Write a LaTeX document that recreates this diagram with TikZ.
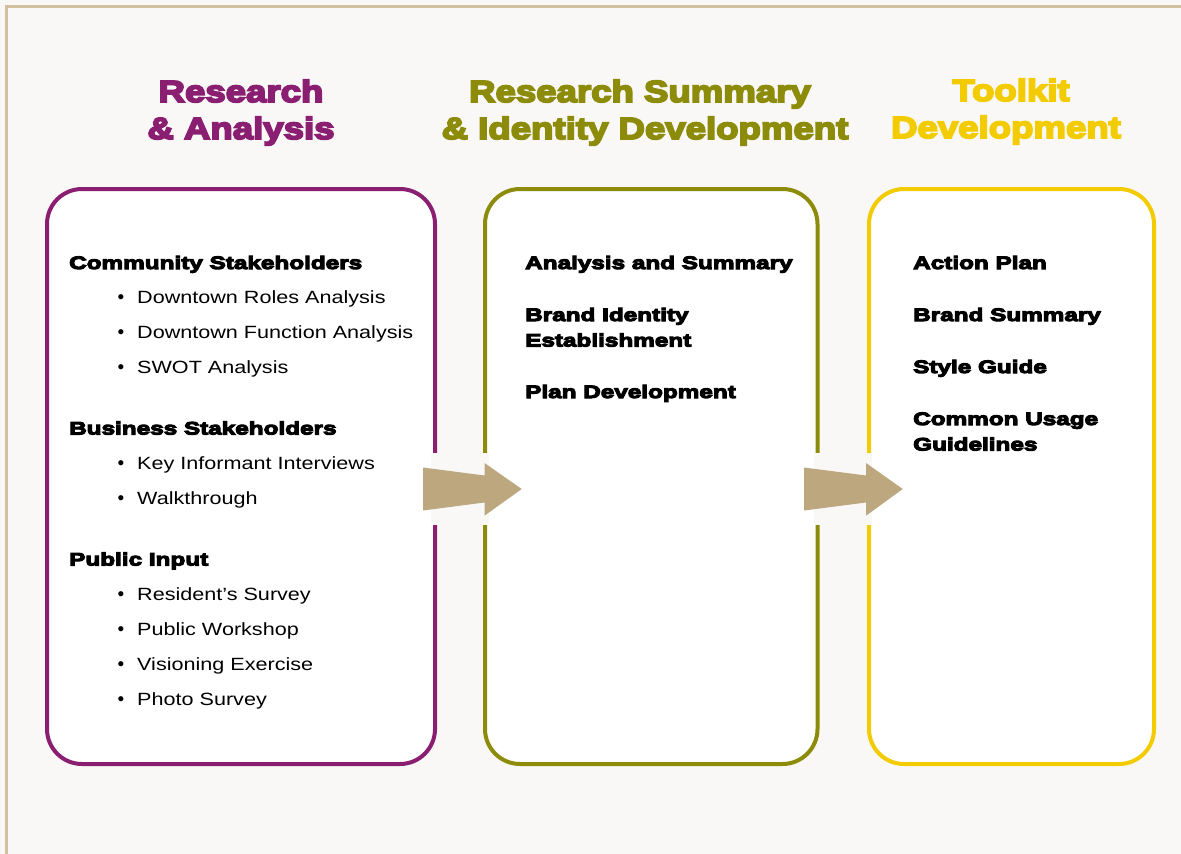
\documentclass[tikz,border=0pt]{standalone}
\usepackage{fontspec}
\newfontface\hdfont{Liberation Sans Bold}[FakeBold=6,FakeStretch=1.2]
\newfontface\sbfont{Liberation Sans Bold}[FakeBold=6,FakeStretch=1.35]
\newfontface\rgfont{Liberation Sans}[FakeStretch=1.22]
\newfontface\bulfont{Liberation Sans}
\definecolor{bgc}{HTML}{F9F8F6}
\definecolor{framec}{HTML}{D2C19E}
\definecolor{purp}{HTML}{8A1F72}
\definecolor{oliv}{HTML}{8C8C0A}
\definecolor{yelw}{HTML}{F2CB00}
\definecolor{arrc}{HTML}{BDA77F}
\tikzset{
  box/.style={draw, line width=4pt, fill=white, rounded corners=35pt, inner sep=0pt},
  head/.style={anchor=base, inner sep=0pt, font={\hdfont\fontsize{30.5}{37}\selectfont}},
  sub/.style={anchor=base west, inner sep=0pt, font={\sbfont\fontsize{18}{22}\selectfont}},
  itm/.style={anchor=base west, inner sep=0pt, font={\rgfont\fontsize{17.7}{22}\selectfont}},
  bul/.style={anchor=base, inner sep=0pt, font={\bulfont\fontsize{19}{22}\selectfont}},
  blockarrow/.style={fill=arrc, draw=none},
  halo/.style={fill=bgc, draw=none}
}
\begin{document}
\begin{tikzpicture}[x=1pt,y=-1pt]
\useasboundingbox (0,0) rectangle (1181,854);
\fill[bgc] (0,0) rectangle (1181,854);
\draw[framec, line width=3pt] (6.5,854) -- (6.5,6.5) -- (1181,6.5);

% headers
\node[head, text=purp] (h1a) at (241,102) {Research};
\node[head, text=purp] (h1b) at (241,139) {\& Analysis};
\node[head, text=oliv] (h2a) at (640,102) {Research Summary};
\node[head, text=oliv] (h2b) at (645,139) {\& Identity Development};
\node[head, text=yelw] (h3a) at (1011,101) {Toolkit};
\node[head, text=yelw] (h3b) at (1006,138) {Development};

% boxes
\node[box, draw=purp, minimum width=388pt, minimum height=575pt] (b1) at (241,476.5) {};
\node[box, draw=oliv, minimum width=332.5pt, minimum height=575pt] (b2) at (651.25,476.5) {};
\node[box, draw=yelw, minimum width=285pt, minimum height=575pt] (b3) at (1011.5,476.5) {};

% arrows with halos
\fill[halo] (431,453) rectangle (489,525);
\fill[halo] (814,453) rectangle (872,525);
\coordinate (a1) at (423,489);
\coordinate (a2) at (804,489);
\fill[blockarrow] (a1) ++(0,-21.5) -- ++(61.5,8) -- ++(0,-12.5) -- ++(37.2,26) -- ++(-37.2,26.7) -- ++(0,-13.2) -- ++(-61.5,8) -- cycle;
\fill[blockarrow] (a2) ++(0,-21.5) -- ++(62,8) -- ++(0,-12.5) -- ++(36.7,26) -- ++(-36.7,26.7) -- ++(0,-13.2) -- ++(-62,8) -- cycle;

% box 1
\node[sub] (s1) at (69,269) {Community Stakeholders};
\node[bul] (p1) at (121,303.5) {•}; \node[itm] (t1) at (137,303.5) {Downtown Roles Analysis};
\node[bul] (p2) at (121,338.5) {•}; \node[itm] (t2) at (137,338.5) {Downtown Function Analysis};
\node[bul] (p3) at (121,373.5) {•}; \node[itm] (t3) at (137,373.5) {SWOT Analysis};
\node[sub] (s2) at (69,434.5) {Business Stakeholders};
\node[bul] (p4) at (121,469.5) {•}; \node[itm] (t4) at (137,469.5) {Key Informant Interviews};
\node[bul] (p5) at (121,504.5) {•}; \node[itm] (t5) at (137,504.5) {Walkthrough};
\node[sub] (s3) at (69,565.5) {Public Input};
\node[bul] (p6) at (121,600.5) {•}; \node[itm] (t6) at (137,600.5) {Resident’s Survey};
\node[bul] (p7) at (121,635.5) {•}; \node[itm] (t7) at (137,635.5) {Public Workshop};
\node[bul] (p8) at (121,670.5) {•}; \node[itm] (t8) at (137,670.5) {Visioning Exercise};
\node[bul] (p9) at (121,705.5) {•}; \node[itm] (t9) at (137,705.5) {Photo Survey};

% box 2
\node[sub] (m1) at (525,269) {Analysis and Summary};
\node[sub] (m2) at (525,321) {Brand Identity};
\node[sub] (m3) at (525,346.5) {Establishment};
\node[sub] (m4) at (525,398) {Plan Development};

% box 3
\node[sub] (r1) at (913,269) {Action Plan};
\node[sub] (r2) at (913,321) {Brand Summary};
\node[sub] (r3) at (913,373) {Style Guide};
\node[sub] (r4) at (913,425) {Common Usage};
\node[sub] (r5) at (913,450.5) {Guidelines};
\end{tikzpicture}
\end{document}
